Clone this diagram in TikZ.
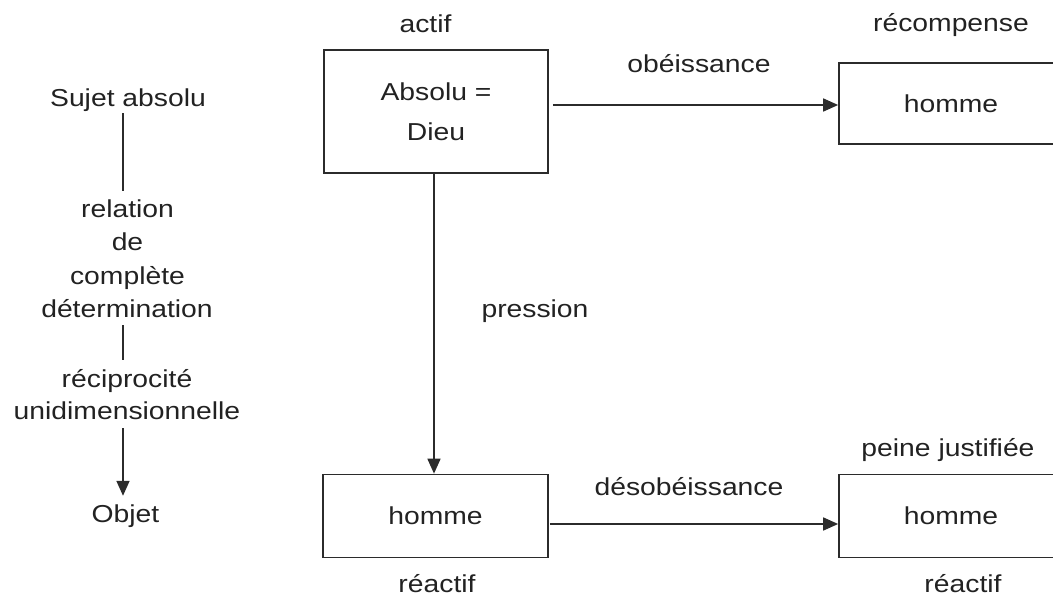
\documentclass[tikz,border=0pt]{standalone}
\usepackage{fontspec}
\setmainfont[FakeStretch=1.155]{Liberation Sans}
\usetikzlibrary{arrows.meta}
\definecolor{ink}{HTML}{222222}
\definecolor{lin}{HTML}{2B2B2B}
\begin{document}
\begin{tikzpicture}[x=1pt,y=-1pt,
  font=\fontsize{24.5}{40}\selectfont, text=ink,
  lbl/.style={inner sep=0pt, anchor=base, text height=18pt, text depth=5pt},
  boxnode/.style={draw=lin, line width=1.7pt, inner sep=0pt, align=center},
  conn/.style={draw=lin, line width=1.7pt},
  arr/.style={conn, -{Triangle[length=15pt,width=13pt]}}]
\useasboundingbox (0,0) rectangle (1053,596);
\clip (0,0) rectangle (1053,596);
% boxes
\node[boxnode, minimum width=224pt, minimum height=123pt] (absolu) at (436,111.5) {Absolu =\\Dieu};
\node[boxnode, minimum width=224pt, minimum height=81pt] (hr1) at (951,103.5) {homme};
\node[boxnode, minimum width=225pt, minimum height=83pt] (hl) at (435.5,516) {homme};
\node[boxnode, minimum width=224pt, minimum height=83pt] (hr2) at (951,516) {homme};
% labels
\node[lbl] (actif) at (425.5,33) {actif};
\node[lbl] (recomp) at (951,32) {récompense};
\node[lbl] (peine) at (948,456) {peine justifiée};
\node[lbl] (react1) at (437,592) {réactif};
\node[lbl] (react2) at (963,592) {réactif};
\node[lbl] (obe) at (699,73) {obéissance};
\node[lbl] (deso) at (689,495) {désobéissance};
\node[lbl] (press) at (535,317) {pression};
% left column
\node[lbl] (sujet) at (128,107) {Sujet absolu};
\node[lbl] (rel) at (127.5,218) {relation};
\node[lbl] (de) at (127.5,251) {de};
\node[lbl] (comp) at (127.5,285) {complète};
\node[lbl] (det) at (127,318) {détermination};
\node[lbl] (rec) at (127,387) {réciprocité};
\node[lbl] (uni) at (127,419) {unidimensionnelle};
\node[lbl] (objet) at (125.5,522) {Objet};
% connectors
\draw[conn, shorten <=1pt, shorten >=9pt] ([xshift=-5pt]sujet.south) -- ([xshift=-4.5pt]rel.north);
\draw[conn, shorten <=2pt, shorten >=9pt] ([xshift=-4pt]det.south) -- ([xshift=-4pt]rec.north);
\draw[arr, shorten <=4pt, shorten >=8pt] ([xshift=-4pt]uni.south) -- ([xshift=-2.5pt]objet.north);
\draw[arr, shorten <=4pt] (absolu.east |- 0,105) -- (hr1.west |- 0,105);
\draw[arr] ([xshift=-2pt]absolu.south) -- ([xshift=-1.5pt]hl.north);
\draw[arr, shorten <=1pt] ([yshift=-8pt]hl.east) -- ([yshift=-8pt]hr2.west);
\end{tikzpicture}
\end{document}
